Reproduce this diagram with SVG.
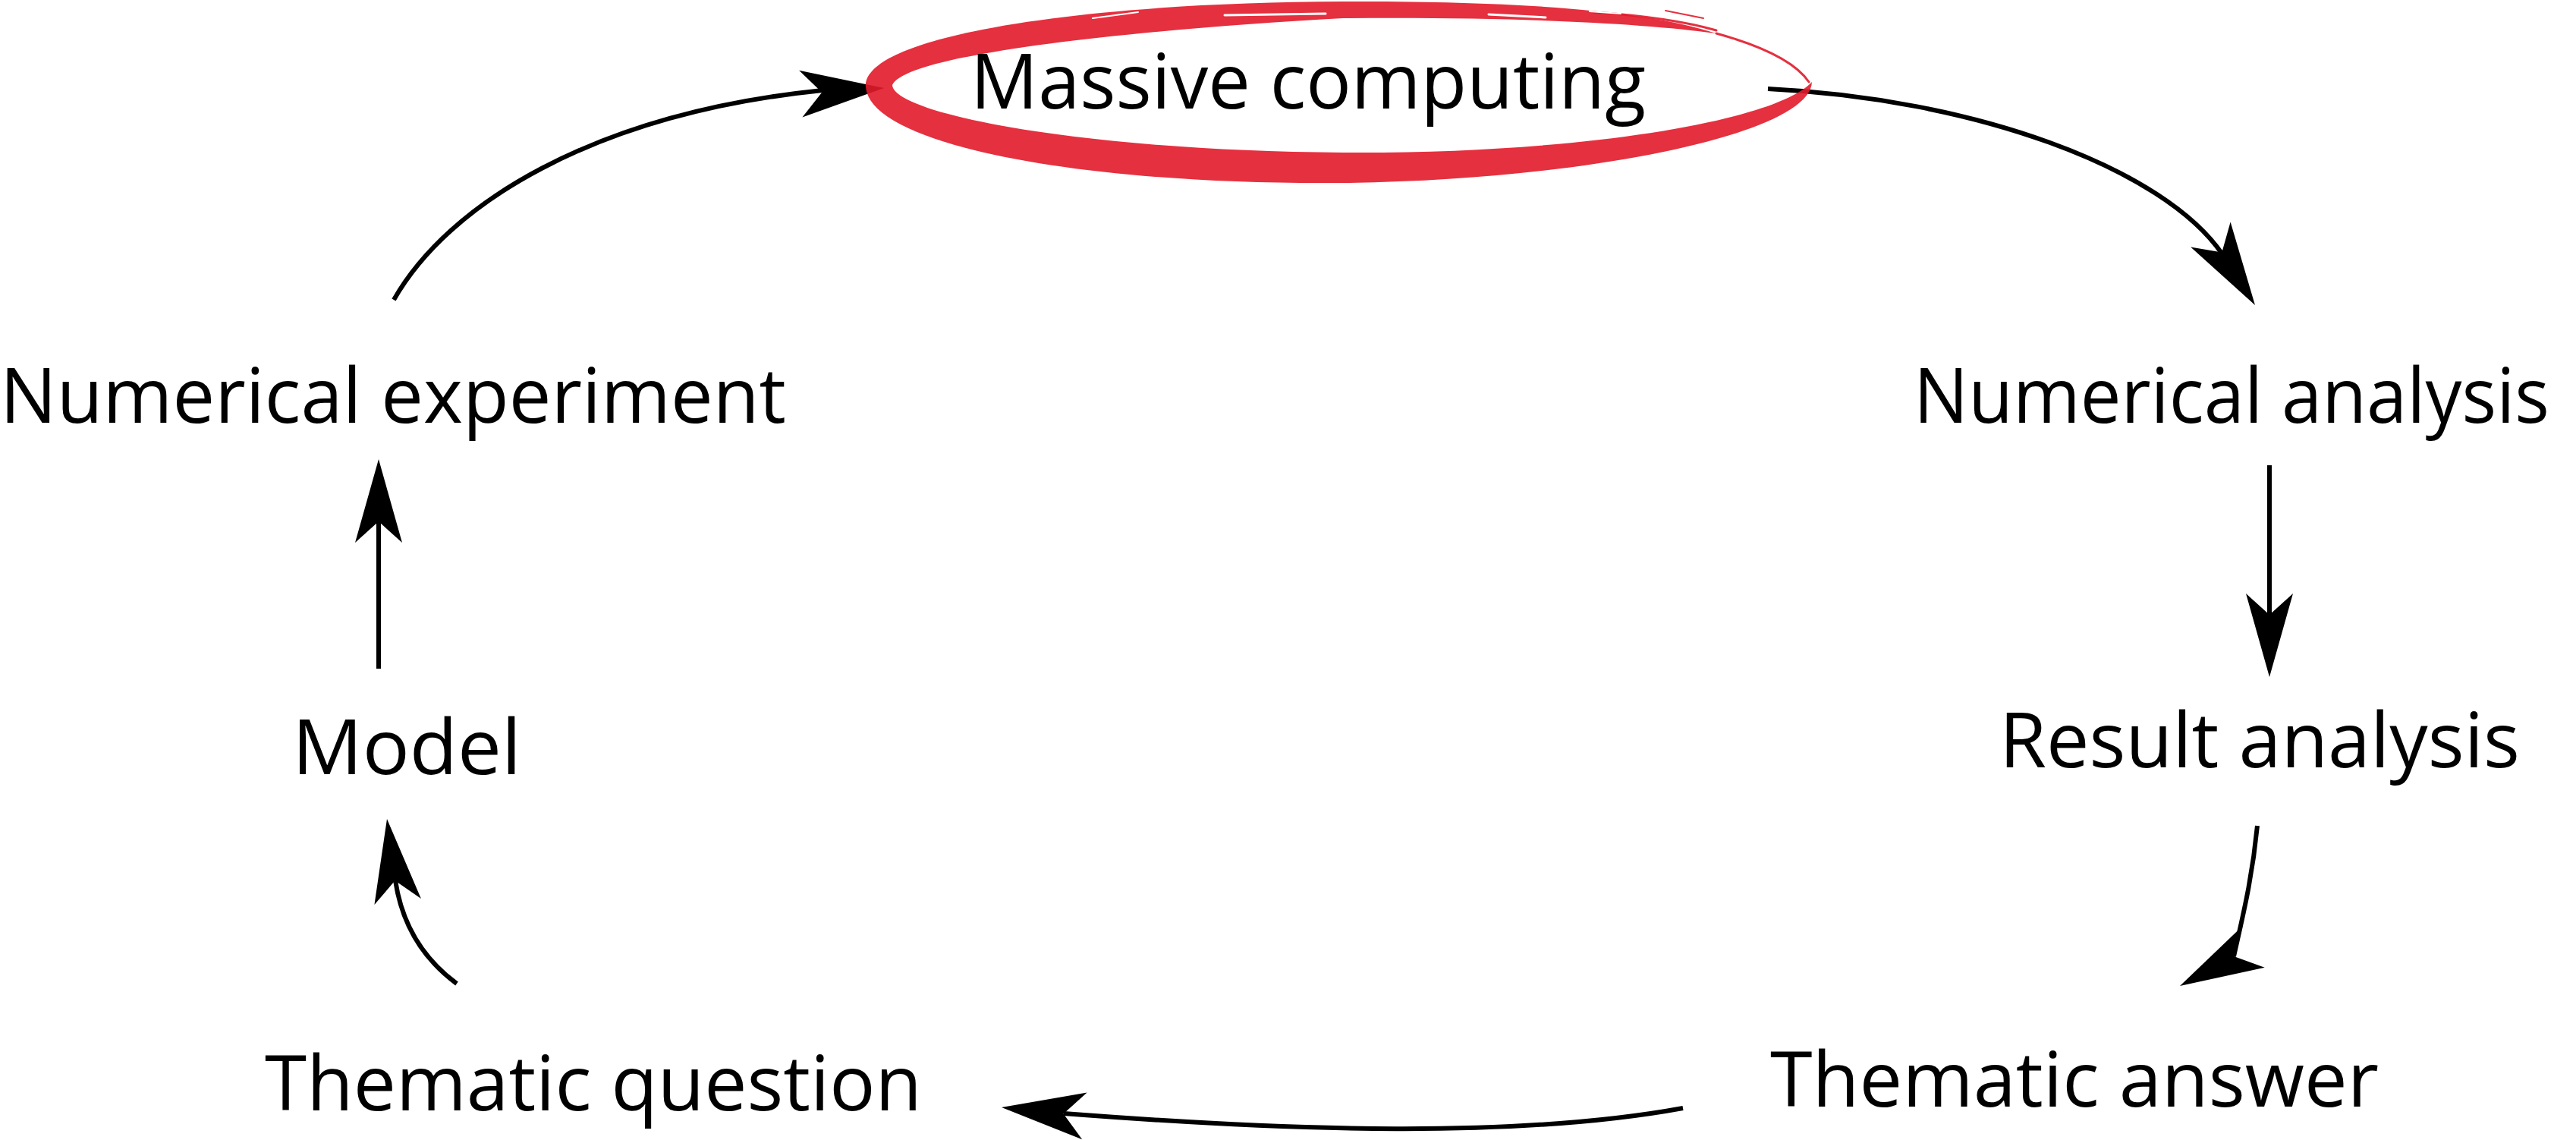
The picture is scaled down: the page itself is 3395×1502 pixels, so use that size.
<svg xmlns="http://www.w3.org/2000/svg" xmlns:xlink="http://www.w3.org/1999/xlink" width="3395" height="1502" viewBox="0 0 3395 1502">
  <style>
    .label { font-family: "Open Sans", "Noto Sans", "DejaVu Sans", sans-serif; font-size: 100px; fill: #000; }
    .edge { fill: none; stroke: #000; stroke-width: 6; stroke-linecap: butt; }
    .head { fill: #000; }
    .brush { fill: #e2192a; fill-opacity: 0.9; }
    .brush-hair { fill: none; stroke: #e2192a; stroke-opacity: 0.9; stroke-linecap: round; }
    .brush-gap { fill: none; stroke: #fff; stroke-linecap: round; }
  </style>
  <defs>
    <!-- stealth-style arrowhead, tip at origin, pointing along +x -->
    <path id="head" class="head" d="M0,0 L-110,-31 L-82,0 L-110,31 Z"/>
  </defs>

  <rect width="3395" height="1502" fill="#fff"/>

  <g id="connectors">
    <!-- Numerical experiment -> Massive computing -->
    <path class="edge" d="M519,395 C590,270 780,150 1084,119"/>
    <use xlink:href="#head" transform="translate(1165,116) rotate(-4)"/>
    <!-- Massive computing -> Numerical analysis -->
    <path class="edge" d="M2330,117 C2600,130 2850,220 2929,335"/>
    <use xlink:href="#head" transform="translate(2972,402) rotate(57.8)"/>
    <!-- Numerical analysis -> Result analysis -->
    <path class="edge" d="M2991,613 L2991,815"/>
    <use xlink:href="#head" transform="translate(2991,892) rotate(90)"/>
    <!-- Result analysis -> Thematic answer -->
    <path class="edge" d="M2975,1088 C2968,1160 2955,1210 2944,1260"/>
    <use xlink:href="#head" transform="translate(2873,1299) rotate(152)"/>
    <!-- Thematic answer -> Thematic question -->
    <path class="edge" d="M2218,1460 C2000,1500 1700,1490 1402,1467"/>
    <use xlink:href="#head" transform="translate(1320,1459) rotate(185.9)"/>
    <!-- Thematic question -> Model -->
    <path class="edge" d="M602,1296 C560,1265 530,1220 521,1160"/>
    <use xlink:href="#head" transform="translate(510,1079) rotate(-97.4)"/>
    <!-- Model -> Numerical experiment -->
    <path class="edge" d="M499,881 L499,686"/>
    <use xlink:href="#head" transform="translate(499,605) rotate(-90)"/>
  </g>

  <g id="node-massive-computing">
    <!-- hand-drawn red highlight ring -->
    <path class="brush" d="M2388,108
      C2386,178 2080,238 1770,241
      C1430,244 1148,192 1141,115
      C1135,45 1440,3 1770,2
      C2000,1 2170,14 2262,44
      C2160,30 1990,22 1770,24
      C1480,40 1195,72 1176,112
      C1177,150 1430,199 1770,201
      C2080,203 2340,160 2388,108 Z"/>
    <path class="brush-hair" stroke-width="3" d="M2262,44 C2320,60 2365,80 2384,108"/>
    <path class="brush-hair" stroke-width="3" d="M2100,16 C2160,20 2220,28 2262,40"/>
    <path class="brush-hair" stroke-width="2" d="M2195,14 L2245,24"/>
    <path class="brush-gap" stroke-width="3" d="M1614,20 L1747,18"/>
    <path class="brush-gap" stroke-width="3" d="M1962,19 L2037,23"/>
    <path class="brush-gap" stroke-width="2" d="M2095,15 L2136,18"/>
    <path class="brush-gap" stroke-width="2" d="M1531,6 L1564,5"/>
    <path class="brush-gap" stroke-width="2" d="M1440,24 L1500,16"/>
    <text class="label" x="1279" y="143" textLength="890" lengthAdjust="spacingAndGlyphs">Massive computing</text>
  </g>

  <g id="node-numerical-analysis">
    <text class="label" x="2522" y="557" textLength="838" lengthAdjust="spacingAndGlyphs">Numerical analysis</text>
  </g>

  <g id="node-result-analysis">
    <text class="label" x="2635" y="1011" textLength="686" lengthAdjust="spacingAndGlyphs">Result analysis</text>
  </g>

  <g id="node-thematic-answer">
    <text class="label" x="2333" y="1458" textLength="802" lengthAdjust="spacingAndGlyphs">Thematic answer</text>
  </g>

  <g id="node-thematic-question">
    <text class="label" x="349" y="1463" textLength="866" lengthAdjust="spacingAndGlyphs">Thematic question</text>
  </g>

  <g id="node-model">
    <text class="label" x="385" y="1020" textLength="302" lengthAdjust="spacingAndGlyphs">Model</text>
  </g>

  <g id="node-numerical-experiment">
    <text class="label" x="0" y="557" textLength="1036" lengthAdjust="spacingAndGlyphs">Numerical experiment</text>
  </g>
</svg>
